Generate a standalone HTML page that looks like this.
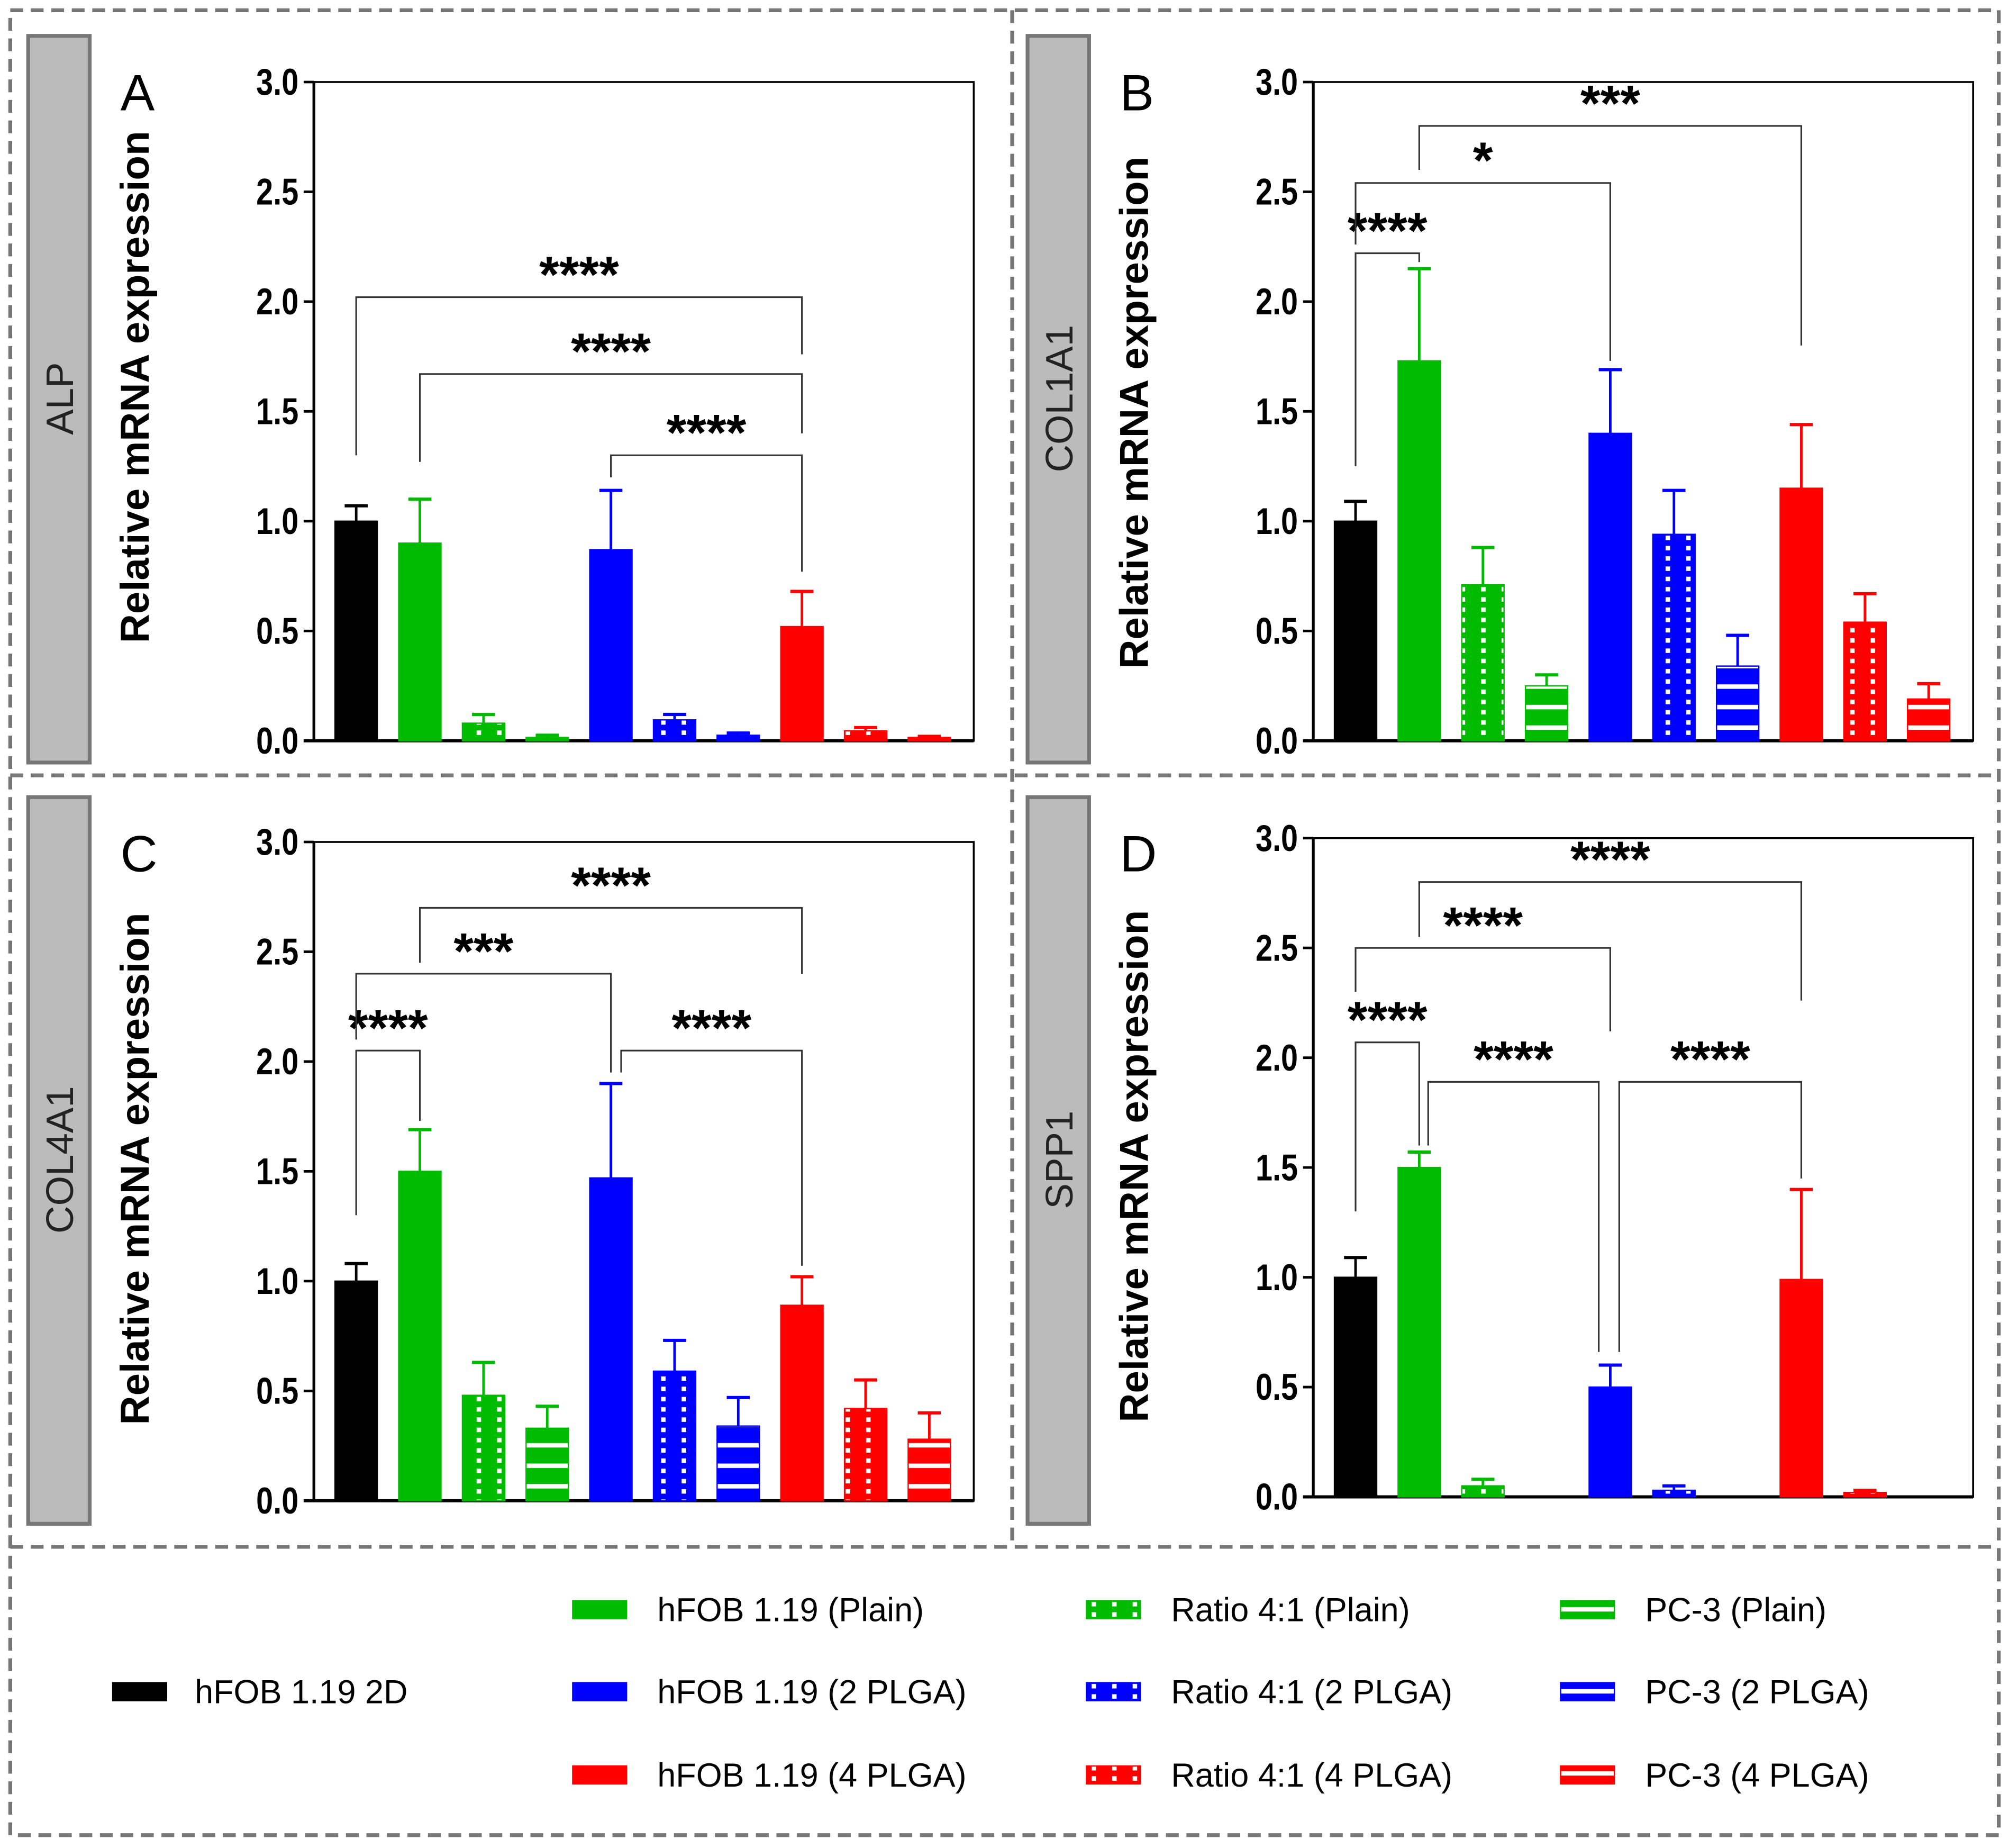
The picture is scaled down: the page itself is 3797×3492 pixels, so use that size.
<!DOCTYPE html>
<html><head><meta charset="utf-8"><style>
html,body{margin:0;padding:0;background:#fff}
svg{display:block}
text{font-family:"Liberation Sans",Arial,sans-serif}
</style></head><body>
<svg id="fig" xmlns="http://www.w3.org/2000/svg" width="3797" height="3492" viewBox="0 0 1568 1442" preserveAspectRatio="none">
<defs>
<pattern id="dot-g" width="16" height="8" patternUnits="userSpaceOnUse"><rect width="16" height="8" fill="#00bb00"/><rect x="4" y="2" width="3.5" height="3.5" fill="#fff"/></pattern>
<pattern id="dot-b" width="16" height="8" patternUnits="userSpaceOnUse"><rect width="16" height="8" fill="#0000ff"/><rect x="4" y="2" width="3.5" height="3.5" fill="#fff"/></pattern>
<pattern id="dot-r" width="16" height="8" patternUnits="userSpaceOnUse"><rect width="16" height="8" fill="#ff0000"/><rect x="4" y="2" width="3.5" height="3.5" fill="#fff"/></pattern>
<pattern id="str-g" width="20" height="16" patternUnits="userSpaceOnUse"><rect width="20" height="16" fill="#00bb00"/><rect y="6" width="20" height="3.5" fill="#fff"/></pattern>
<pattern id="str-b" width="20" height="16" patternUnits="userSpaceOnUse"><rect width="20" height="16" fill="#0000ff"/><rect y="6" width="20" height="3.5" fill="#fff"/></pattern>
<pattern id="str-r" width="20" height="16" patternUnits="userSpaceOnUse"><rect width="20" height="16" fill="#ff0000"/><rect y="6" width="20" height="3.5" fill="#fff"/></pattern>
</defs>
<g fill="none" stroke="#777" stroke-width="3" stroke-dasharray="10 6">
<rect x="8" y="8" width="1552" height="1424"/>
<line x1="790" y1="8" x2="790" y2="1207"/>
<line x1="8" y1="605" x2="1560" y2="605"/>
<line x1="8" y1="1207" x2="1560" y2="1207"/>
</g>
<g id="charts"></g>
<g id="legend"></g>
</svg>
<script>
const NS="http://www.w3.org/2000/svg";
const categories=["hFOB 1.19 2D","hFOB 1.19 (Plain)","Ratio 4:1 (Plain)","PC-3 (Plain)","hFOB 1.19 (2 PLGA)","Ratio 4:1 (2 PLGA)","PC-3 (2 PLGA)","hFOB 1.19 (4 PLGA)","Ratio 4:1 (4 PLGA)","PC-3 (4 PLGA)"];
const fills=["#000","#00bb00","url(#dot-g)","url(#str-g)","#0000ff","url(#dot-b)","url(#str-b)","#ff0000","url(#dot-r)","url(#str-r)"];
const strokes=["#000","#00bb00","#00bb00","#00bb00","#0000ff","#0000ff","#0000ff","#ff0000","#ff0000","#ff0000"];
const yTicks=[0,0.5,1,1.5,2,2.5,3];
const yTickLabels=["0.0","0.5","1.0","1.5","2.0","2.5","3.0"];
const alpMeans=[1.0,0.9,0.08,0.015,0.87,0.095,0.025,0.52,0.045,0.015];
const alpErr=[1.07,1.1,0.12,0.025,1.14,0.12,0.035,0.68,0.06,0.02];
const col1Means=[1.0,1.73,0.71,0.25,1.4,0.94,0.34,1.15,0.54,0.19];
const col1Err=[1.09,2.15,0.88,0.3,1.69,1.14,0.48,1.44,0.67,0.26];
const col4Means=[1.0,1.5,0.48,0.33,1.47,0.59,0.34,0.89,0.42,0.28];
const col4Err=[1.08,1.69,0.63,0.43,1.9,0.73,0.47,1.02,0.55,0.4];
const sppMeans=[1.0,1.5,0.05,0,0.5,0.03,0,0.99,0.02,0];
const sppErr=[1.09,1.57,0.08,0,0.6,0.05,0,1.4,0.03,0];
// brackets: [i, j, level, leftEnd, rightEnd, label, dxLeft, dxRight]
const alpBrackets=[[0,7,2.02,1.3,1.76,"****",0,0],[1,7,1.67,1.27,1.4,"****",0,0],[4,7,1.3,1.2,0.77,"****",0,0]];
const col1Brackets=[[0,1,2.22,1.25,2.18,"****",0,0],[0,4,2.54,2.26,1.73,"*",0,0],[1,7,2.8,2.6,1.8,"***",0,0]];
const col4Brackets=[[0,1,2.05,1.3,1.73,"****",0,0],[0,4,2.4,2.1,1.95,"***",0,0],[1,7,2.7,2.45,2.4,"****",0,0],[4,7,2.05,1.95,1.07,"****",8,0]];
const sppBrackets=[[0,1,2.07,1.3,1.6,"****",0,0],[0,4,2.5,2.3,2.12,"****",0,0],[1,7,2.8,2.55,2.26,"****",0,0],[1,4,1.89,1.6,0.66,"****",7,-9],[4,7,1.89,0.66,1.45,"****",7,0]];
const panels=[
 {key:"alp",gene:"ALP",letter:"A",left:245,y0:578,y3:64,tabX:22,tabY:28,titleDy:-19,means:alpMeans,err:alpErr,br:alpBrackets},
 {key:"col1a1",gene:"COL1A1",letter:"B",left:1025,y0:578,y3:64,tabX:802,tabY:28,titleDy:1,means:col1Means,err:col1Err,br:col1Brackets},
 {key:"col4a1",gene:"COL4A1",letter:"C",left:245,y0:1171,y3:657,tabX:22,tabY:622,titleDy:-2,means:col4Means,err:col4Err,br:col4Brackets},
 {key:"spp1",gene:"SPP1",letter:"D",left:1025,y0:1168,y3:654,tabX:802,tabY:622,titleDy:-1,means:sppMeans,err:sppErr,br:sppBrackets}
];
function mk(tag,attrs,parent,txt){const e=document.createElementNS(NS,tag);for(const k in attrs)e.setAttribute(k,attrs[k]);if(txt!==undefined)e.textContent=txt;parent.appendChild(e);return e;}
const root=document.getElementById("charts");
panels.forEach(p=>{
 const g=mk("g",{},root);
 
 
 const W=515;
 const yS=v=>p.y0-(p.y0-p.y3)*v/3;
 const xS=i=>p.left+33+i*49.7;
 const tab=mk("rect",{x:p.tabX,y:p.tabY,width:48,height:567,fill:"#bbb",stroke:"#777","stroke-width":3},g);
 
 
 const gl=mk("text",{x:0,y:0,transform:`translate(${p.tabX+35},${p.tabY+283}) rotate(-90)`,"text-anchor":"middle","font-size":30,fill:"#222"},g,p.gene);
 
 
 const lt=mk("text",{x:p.tabX+72,y:p.tabY+58,"font-size":40,fill:"#000"},g,p.letter);
 
 
 const yt=mk("text",{x:0,y:0,transform:`translate(${p.tabX+94},${(p.y0+p.y3)/2+p.titleDy}) rotate(-90)`,"text-anchor":"middle","font-size":31.5,"font-weight":"bold",fill:"#000"},g,"Relative mRNA expression");
 
 
 const fr=mk("rect",{x:p.left,y:p.y3,width:W,height:p.y0-p.y3,fill:"none",stroke:"#000","stroke-width":1.5},g);
 
 
 const ax=mk("line",{x1:p.left,y1:p.y3,x2:p.left,y2:p.y0,stroke:"#000","stroke-width":2.2},g);
 
 
 const bx=mk("line",{x1:p.left-8,y1:p.y0,x2:p.left+W,y2:p.y0,stroke:"#000","stroke-width":2.5},g);
 
 
 yTicks.forEach((t,k)=>{
  const tk=mk("line",{x1:p.left-8,y1:yS(t),x2:p.left,y2:yS(t),stroke:"#000","stroke-width":2},g);
  
  
  const tl=mk("text",{x:0,y:0,transform:`translate(${p.left-12},${yS(t)+10}) scale(0.82,1)`,"text-anchor":"end","font-size":29,"font-weight":"bold",fill:"#000"},g,yTickLabels[k]);
  
  
 });
 p.means.forEach((v,i)=>{
  const x=xS(i),bw=33;
  if(p.err[i]>v){
   const e=mk("line",{x1:x,y1:yS(v),x2:x,y2:yS(p.err[i]),stroke:strokes[i],"stroke-width":2},g);
   
   
   const c=mk("line",{x1:x-9,y1:yS(p.err[i]),x2:x+9,y2:yS(p.err[i]),stroke:strokes[i],"stroke-width":2.5},g);
   
   
  }
  if(v>0){
   const b=mk("rect",{x:x-bw/2,y:yS(v),width:bw,height:yS(0)-yS(v),fill:fills[i],stroke:strokes[i],"stroke-width":1},g);
   
   
  }
 });
 p.br.forEach(b=>{
  const xa=xS(b[0])+b[6],xb=xS(b[1])+b[7];
  const pl=mk("polyline",{points:`${xa},${yS(b[3])} ${xa},${yS(b[2])} ${xb},${yS(b[2])} ${xb},${yS(b[4])}`,fill:"none",stroke:"#333","stroke-width":1.3},g);
  
  
  const st=mk("text",{x:(xa+xb)/2,y:yS(b[2])-4,"text-anchor":"middle","font-size":40,"font-weight":"bold",fill:"#000"},g,b[5]);
  
  
 });
});
// legend
const leg=document.getElementById("legend");
const legItems=[[0,88,1320],[1,447,1256],[4,447,1320],[7,447,1385],[2,848,1256],[5,848,1320],[8,848,1385],[3,1218,1256],[6,1218,1320],[9,1218,1385]];
legItems.forEach(it=>{
 const i=it[0];
 const sw=mk("rect",{x:it[1],y:it[2]-7,width:42,height:14,fill:fills[i],stroke:strokes[i],"stroke-width":1},leg);
 
 
 const tx=mk("text",{x:it[1]+(i===0?64:66),y:it[2]+9,"font-size":26,fill:"#000"},leg,categories[i]);
 
 
});
</script>
</body></html>
